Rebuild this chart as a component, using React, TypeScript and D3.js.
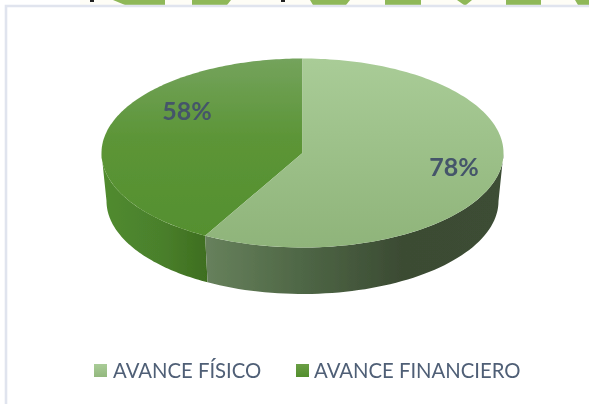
import React from "react";
import * as d3 from "d3";

const categories = ["AVANCE FÍSICO", "AVANCE FINANCIERO"];
const values = [78, 58];
const labels = ["78%", "58%"];
// green bands of the picture cut off along the top edge: [left at top, left at edge, right at top, right at edge]
const topBands = [
  [113, 125, 165, 165],
  [192, 192, 231, 227],
  [310, 313, 350, 346],
  [385, 385, 421, 421],
  [457, 464, 472, 466],
  [506, 506, 541, 541],
  [575, 578, 600, 600],
];

const W = 589, H = 404;
const cx = 302.5, cy = 153, rx = 201, ry = 94.5;
const baseCy = 201, baseRx = 196, baseRy = 93;
const viewSkew = (2.5 * Math.PI) / 180; // perspective shift of the slice boundary

const pie = d3.pie<number>().sort(null).startAngle(0).endAngle(2 * Math.PI);
const arcs = pie(values);
const boundary = arcs[0].endAngle + viewSkew;

const sx = (t: number) => cx + rx * Math.sin(t);
const sy = (t: number) => cy - ry * Math.cos(t);
const bx = (t: number) => cx + baseRx * Math.sin(t);
const by = (t: number) => baseCy - baseRy * Math.cos(t);

const steps = (a: number, b: number, n: number) => d3.range(0, n + 1).map((i) => a + ((b - a) * i) / n);
const line = d3.line<number>().x(sx).y(sy);
const baseLine = d3.line<number>().x(bx).y(by);

function wall(a: number, b: number) {
  const top = steps(a, b, 60);
  const bottom = steps(b, a, 60);
  return `${line(top)}L${(baseLine(bottom) as string).slice(1)}Z`;
}
const wedge = (a: number, b: number) => `${line(steps(a, b, 160))}L${cx},${cy}Z`;

const right = Math.PI / 2;
const left = (3 * Math.PI) / 2;

export default function App() {
  return (
    <svg
      width={W}
      height={H}
      viewBox={`0 0 ${W} ${H}`}
      style={{ position: "fixed", left: 0, top: 0, display: "block", background: "#fff" }}
    >
      <defs>
        <linearGradient id="topLight" gradientUnits="userSpaceOnUse" x1="0" x2="0" y1={cy - ry} y2={cy + ry}>
          <stop offset="0" stopColor="#a9cc97" />
          <stop offset="1" stopColor="#8fb47a" />
        </linearGradient>
        <linearGradient id="topDark" gradientUnits="userSpaceOnUse" x1="0" x2="0" y1={cy - ry} y2={cy + ry}>
          <stop offset="0" stopColor="#74a35c" />
          <stop offset="0.42" stopColor="#5c9537" />
          <stop offset="1" stopColor="#548f2e" />
        </linearGradient>
        <linearGradient id="sideLight" gradientUnits="userSpaceOnUse" x1="205" x2="503" y1="0" y2="0">
          <stop offset="0" stopColor="#67815c" />
          <stop offset="0.32" stopColor="#4f6746" />
          <stop offset="0.66" stopColor="#3b4b33" />
          <stop offset="1" stopColor="#3c4d34" />
        </linearGradient>
        <linearGradient id="sideDark" gradientUnits="userSpaceOnUse" x1="102" x2="207" y1="0" y2="0">
          <stop offset="0" stopColor="#518b2f" />
          <stop offset="0.55" stopColor="#4a802c" />
          <stop offset="1" stopColor="#3e6e1f" />
        </linearGradient>
        <linearGradient id="legLight" x1="0" x2="0" y1="0" y2="1">
          <stop offset="0" stopColor="#a9cc97" />
          <stop offset="1" stopColor="#93b87e" />
        </linearGradient>
        <linearGradient id="legDark" x1="0" x2="0" y1="0" y2="1">
          <stop offset="0" stopColor="#6a9e45" />
          <stop offset="1" stopColor="#528e2c" />
        </linearGradient>
        <filter id="soft" x="-5%" y="-5%" width="110%" height="110%">
          <feGaussianBlur stdDeviation="0.5" />
        </filter>
      </defs>

      <g filter="url(#soft)">
        <rect x={80} y={0} width={509} height={5} fill="#fefdf6" />
        {topBands.map(([a, b, c, d]) => (
          <polygon key={a} points={`${a},0 ${c},0 ${d},5 ${b},5`} fill="#8fb858" />
        ))}
        <rect x={90} y={0} width={4} height={2} fill="#222" />
        <rect x={281} y={0} width={4} height={2} fill="#222" />
        <path d={`M6,${H + 5} V6 H${W + 5}`} fill="none" stroke="#e0e4ee" strokeWidth={2.6} />
      </g>

      <g filter="url(#soft)">
        <path d={wall(boundary, left)} fill="url(#sideDark)" />
        <path d={wall(right, boundary)} fill="url(#sideLight)" />
        <path d={wedge(boundary, 2 * Math.PI)} fill="url(#topDark)" />
        <path d={wedge(0, boundary)} fill="url(#topLight)" />

        <g fontFamily="Lato" fontWeight={700} fontSize={25} fill="#44546a" textAnchor="middle">
          <text x={454} y={176}>{labels[0]}</text>
          <text x={187} y={120}>{labels[1]}</text>
        </g>

        <g fontFamily="Lato" fontSize={20.3} fill="#4f5f76">
          <rect x={94} y={364} width={13} height={13} fill="url(#legLight)" />
          <text x={113} y={378}>{categories[0]}</text>
          <rect x={296} y={364} width={13} height={13} fill="url(#legDark)" />
          <text x={314} y={378}>{categories[1]}</text>
        </g>
      </g>
    </svg>
  );
}
